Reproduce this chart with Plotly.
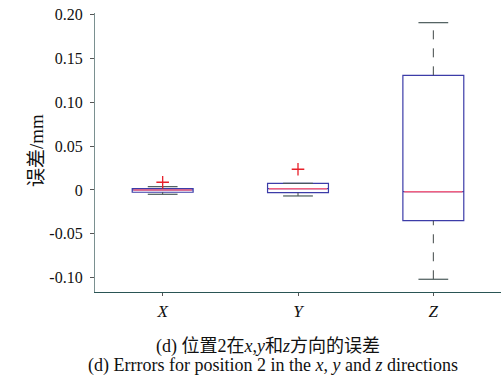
import plotly.graph_objects as go

categories = ["X", "Y", "Z"]
positions = [1, 2, 3]
q1 = [-0.0026, -0.0030, -0.0350]
median = [0.0000, 0.0015, -0.0019]
q3 = [0.0015, 0.0076, 0.1306]
lower_whisker = [-0.0049, -0.0068, -0.1017]
upper_whisker = [0.0038, 0.0076, 0.1906]
outlier_x = [1, 2]
outlier_y = [0.0088, 0.0236]

y_ticks = [0.20, 0.15, 0.10, 0.05, 0, -0.05, -0.10]
y_ticktext = ["0.20", "0.15", "0.10", "0.05", "0", "-0.05", "-0.10"]

BOX_W = 0.45
CAP_W = 0.22
blue = "#3c3ca8"
red = "#f06080"
serif = "Liberation Serif, Times New Roman, serif"
mixed = "Liberation Serif, Noto Sans CJK SC"

L, R, T, B = 95, 0, 13, 88
PW, PH = 501 - L - R, 380 - T - B

fig = go.Figure()

# whiskers (dashed) and caps
for p, lo, hi, a, b in zip(positions, lower_whisker, upper_whisker, q1, q3):
    fig.add_trace(go.Scatter(x=[p, p, None, p, p], y=[b, hi, None, lo, a], mode="lines",
                             line=dict(color="#404848", width=1, dash="dash"),
                             showlegend=False, hoverinfo="skip"))
    fig.add_trace(go.Scatter(x=[p - CAP_W / 2, p + CAP_W / 2, None, p - CAP_W / 2, p + CAP_W / 2],
                             y=[hi, hi, None, lo, lo], mode="lines",
                             line=dict(color="#4a5a5a", width=1.2),
                             showlegend=False, hoverinfo="skip"))

# boxes
fig.add_trace(go.Box(x=positions, q1=q1, median=median, q3=q3,
                     lowerfence=q1, upperfence=q3, width=BOX_W,
                     line=dict(color=blue, width=1.2), fillcolor="rgba(255,255,255,0)",
                     boxpoints=False, showlegend=False, hoverinfo="skip"))

# medians
for p, m in zip(positions, median):
    fig.add_trace(go.Scatter(x=[p - BOX_W / 2 + 0.01, p + BOX_W / 2 - 0.01], y=[m, m], mode="lines",
                             line=dict(color=red, width=1.5),
                             showlegend=False, hoverinfo="skip"))

# outliers
fig.add_trace(go.Scatter(x=outlier_x, y=outlier_y, mode="markers",
                         marker=dict(symbol="cross-thin-open", size=9, color="#e8202a",
                                     line=dict(color="#e8202a", width=1.3)),
                         showlegend=False, hoverinfo="skip"))

fig.update_layout(
    width=501, height=380,
    margin=dict(l=L, r=R, t=T, b=B),
    paper_bgcolor="white", plot_bgcolor="white",
    font=dict(family=serif, size=16, color="#111"),
    xaxis=dict(range=[0.5, 3.5], tickvals=positions,
               ticktext=["<i>%s</i>" % c for c in categories],
               showline=True, linecolor="#2a5555", linewidth=1.2,
               ticks="outside", ticklen=3, tickcolor="#555",
               showgrid=False, zeroline=False, automargin=False,
               tickfont=dict(family=serif, size=17)),
    yaxis=dict(range=[-0.1162, 0.2016], tickvals=y_ticks, ticktext=y_ticktext,
               showline=True, linecolor="#7a9090", linewidth=1.2,
               ticks="outside", ticklen=4, tickcolor="#555", ticklabelstandoff=4,
               showgrid=False, zeroline=False, automargin=False,
               tickfont=dict(family=serif, size=16)),
)

fig.add_annotation(text="误差/mm", xref="paper", yref="paper",
                   x=(36 - L) / PW, y=(PH - (151 - T)) / PH, xanchor="center", yanchor="middle",
                   textangle=-90, showarrow=False, font=dict(family=mixed, size=19))
fig.add_annotation(text="(d) 位置2在<i>x</i>,<i>y</i>和<i>z</i>方向的误差", xref="paper", yref="paper",
                   x=(268 - L) / PW, y=-(346 - 292) / PH, xanchor="center", yanchor="middle",
                   showarrow=False, font=dict(family=mixed, size=18))
fig.add_annotation(text="(d) Errrors for position 2 in the <i>x</i>, <i>y</i> and <i>z</i> directions",
                   xref="paper", yref="paper",
                   x=(273 - L) / PW, y=-(365 - 292) / PH, xanchor="center", yanchor="middle",
                   showarrow=False, font=dict(family=serif, size=18))

fig.write_html("out.html", config={"displayModeBar": False},
               post_script="document.body.style.margin='0';document.body.style.overflow='hidden';")
